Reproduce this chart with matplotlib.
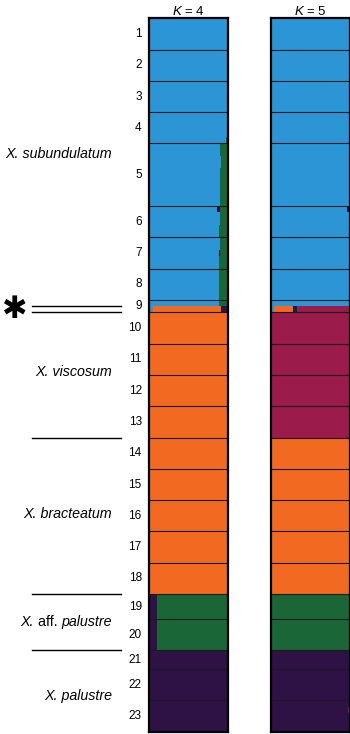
import matplotlib.pyplot as plt
import numpy as np
from matplotlib.lines import Line2D
from matplotlib.transforms import blended_transform_factory

plt.rcParams['font.family'] = ['Liberation Sans', 'DejaVu Sans']
plt.rcParams['mathtext.fontset'] = 'custom'
plt.rcParams['mathtext.rm'] = 'Liberation Sans'
plt.rcParams['mathtext.it'] = 'Liberation Sans:italic'

# populations (top to bottom) and number of individuals in each
pop_labels = ['1', '2', '3', '4', '5', '6', '7', '8', '9', '10', '11', '12',
              '13', '14', '15', '16', '17', '18', '19', '20', '21', '22', '23']
pop_sizes = [5, 5, 5, 5, 10, 5, 5, 5, 2, 5, 5, 5, 5, 5, 5, 5, 5, 5, 4, 5, 3, 5, 5]

# cluster colours, in stacking order (left to right inside a bar)
colors_k4 = ['#2b95d6', '#f26a22', '#2e1246', '#1a6636']           # blue, orange, purple, green
colors_k5 = ['#2b95d6', '#f26a22', '#2e1246', '#1a6636', '#9b1b4b']  # + maroon

# dominant cluster of each population
main_k4 = [0, 0, 0, 0, 0, 0, 0, 0, 0, 1, 1, 1, 1, 1, 1, 1, 1, 1, 3, 3, 2, 2, 2]
main_k5 = [0, 0, 0, 0, 0, 0, 0, 0, 0, 4, 4, 4, 4, 1, 1, 1, 1, 1, 3, 3, 2, 2, 2]

# K=4: green share of the individuals of pops 1-9
green_k4 = [0.01, 0.01, 0.0, 0.0, 0.0,
            0.0, 0.0, 0.0, 0.0, 0.0,
            0.0, 0.0, 0.0, 0.0, 0.0,
            0.0, 0.0, 0.0, 0.02, 0.03,
            0.10, 0.10, 0.09, 0.09, 0.10, 0.10, 0.10, 0.10, 0.11, 0.11,
            0.11, 0.11, 0.11, 0.12, 0.12,
            0.11, 0.11, 0.11, 0.12, 0.12,
            0.12, 0.12, 0.12, 0.12, 0.12,
            0.12, 0.02]
# K=4: purple share of the individuals of pops 19-20
purple_k4 = [0.11, 0.11, 0.11, 0.11, 0.11, 0.11, 0.11, 0.11, 0.11]

# individual membership vectors that differ from the above
admix_k4 = {
    30: [0.86, 0.0, 0.03, 0.11],
    37: [0.88, 0.0, 0.01, 0.11],
    46: [0.05, 0.86, 0.07, 0.02],
    64: [0.01, 0.97, 0.02, 0.0],
    107: [0.0, 0.01, 0.99, 0.0],
    110: [0.0, 0.02, 0.98, 0.0],
}
admix_k5 = {
    25: [0.99, 0.0, 0.0, 0.0, 0.01],
    30: [0.97, 0.0, 0.03, 0.0, 0.0],
    36: [0.99, 0.0, 0.01, 0.0, 0.0],
    46: [0.05, 0.24, 0.04, 0.02, 0.65],
    55: [0.0, 0.025, 0.0, 0.0, 0.975],
    62: [0.0, 0.015, 0.0, 0.0, 0.985],
    94: [0.0, 0.0, 0.01, 0.99, 0.0],
    110: [0.0, 0.02, 0.96, 0.0, 0.02],
}

# species names: (italic part before, plain middle, italic part after)
species = [('', '', 'X. subundulatum'), ('', '', 'X. viscosum'),
           ('', '', 'X. bracteatum'), ('X.', ' aff. ', 'palustre'),
           ('', '', 'X. palustre')]
species_y = [21.65, 56.6, 79.2, 96.4, 108.3]
separators = [67, 92, 101]
hybrid_lines = [45.95, 47.0]


def build_q(k, main, admix):
    n = sum(pop_sizes)
    q = np.zeros((n, k))
    i = 0
    for size, m in zip(pop_sizes, main):
        q[i:i + size, m] = 1.0
        i += size
    if k == 4:
        for j, g in enumerate(green_k4):
            q[j] = [1 - g, 0, 0, g]
        start = sum(pop_sizes[:18])
        for j, p in enumerate(purple_k4):
            q[start + j] = [0, 0, p, 1 - p]
    for idx, vals in admix.items():
        q[idx] = vals
    return q


W, H = 350, 734
fig = plt.figure(figsize=(W / 100, H / 100), dpi=100)

top_px, bot_px = 18.3, 731.7
ax1 = fig.add_axes([148.5 / W, 1 - bot_px / H, 80 / W, (bot_px - top_px) / H])
ax2 = fig.add_axes([270.5 / W, 1 - bot_px / H, 79 / W, (bot_px - top_px) / H])

n = sum(pop_sizes)
bounds = np.cumsum(pop_sizes)
starts = bounds - np.array(pop_sizes)

for ax, k, main, admix, cols, title in [(ax1, 4, main_k4, admix_k4, colors_k4, '$K$ = 4'),
                                         (ax2, 5, main_k5, admix_k5, colors_k5, '$K$ = 5')]:
    q = build_q(k, main, admix)
    left = np.zeros(n)
    for c in range(k):
        bars = ax.barh(np.arange(n) + 0.5, q[:, c], left=left, height=1.0,
                       color=cols[c], edgecolor='none', linewidth=0)
        for b in bars:
            b.set_antialiased(False)
        left += q[:, c]
    for b in bounds[:-1]:
        ax.axhline(b, color='#1a1a1a', lw=0.8)
    ax.set_xlim(0, 1)
    ax.set_ylim(n, 0)
    ax.set_xticks([])
    ax.set_yticks([])
    for s in ax.spines.values():
        s.set_linewidth(1.6)
    ax.set_title(title, fontsize=9.5, pad=2.5)

# population numbers
tr = blended_transform_factory(ax1.transAxes, ax1.transData)
for lab, s0, size in zip(pop_labels, starts, pop_sizes):
    ax1.text(-0.085, s0 + size / 2, lab, transform=tr, ha='right', va='center',
             fontsize=8.5)

# species names and separators on the left
trf = blended_transform_factory(fig.transFigure, ax1.transData)
for (pre, mid, post), y in zip(species, species_y):
    t = fig.text(112 / W, y, post, transform=trf, ha='right', va='center',
                 fontsize=10.3, style='italic')
    if mid:
        t_mid = ax1.annotate(mid, xy=(0, 0), xycoords=t, ha='right', va='bottom',
                             fontsize=10.3)
        ax1.annotate(pre, xy=(0, 0), xycoords=t_mid, ha='right', va='bottom',
                     fontsize=10.3, style='italic')
for y in separators + hybrid_lines:
    fig.add_artist(Line2D([32 / W, 121 / W], [y, y], transform=trf, color='black', lw=1.0))
fig.text(14 / W, 46.6, '\u2731', transform=trf, ha='center', va='center',
         fontsize=22, family='DejaVu Sans', fontweight='bold')

fig.savefig('out.png', dpi=100)
